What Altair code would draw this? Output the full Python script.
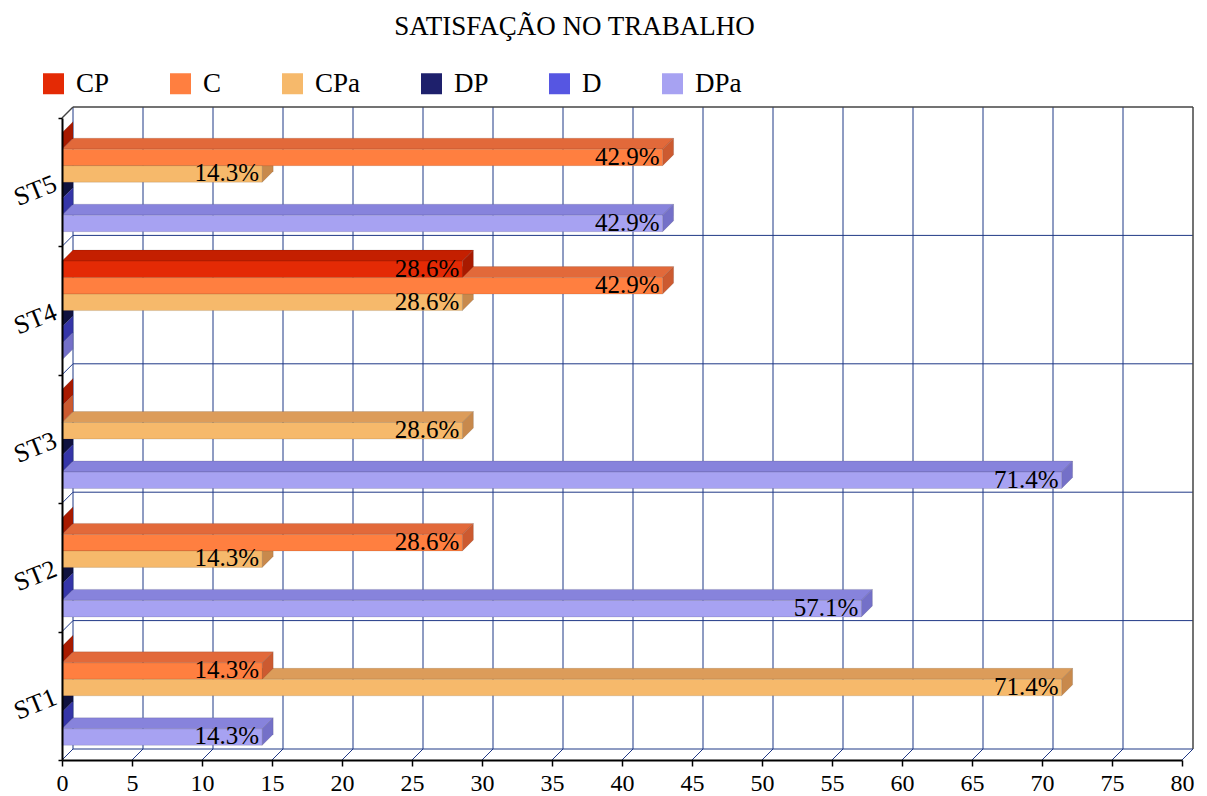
import altair as alt
import pandas as pd

# ---- data -------------------------------------------------------------
CATEGORIES = ["ST1", "ST2", "ST3", "ST4", "ST5"]
SERIES = ["CP", "C", "CPa", "DP", "D", "DPa"]
# percentage of answers per statement (ST1..ST5) for each series
CP = [0.0, 0.0, 0.0, 28.6, 0.0]
C = [14.3, 28.6, 0.0, 42.9, 42.9]
CPA = [71.4, 14.3, 28.6, 28.6, 14.3]
DP = [0.0, 0.0, 0.0, 0.0, 0.0]
D = [0.0, 0.0, 0.0, 0.0, 0.0]
DPA = [14.3, 57.1, 71.4, 0.0, 42.9]
X_TICKS = list(range(0, 85, 5))
TITLE = "SATISFAÇÃO NO TRABALHO"

# ---- style ------------------------------------------------------------
SERIF = "Liberation Serif"
FRONT = ["#e42a05", "#ff7f40", "#f6b96b", "#1e206c", "#5656e2", "#a7a2f2"]
TOP = ["#c41f00", "#e2693a", "#dc9c5a", "#15174f", "#4141c0", "#8783dc"]
SIDE = ["#a81a00", "#cc5a30", "#c8894c", "#10123f", "#3535a8", "#7470c8"]
GRID = "#1f3886"
EDGE = "#444444"

W, H = 1120, 642          # front plane of the plot, in pixels
XMAX = 80
NCAT = len(CATEGORIES)
DEPTH = 11                # 3D depth offset, in pixels
DX = DEPTH * XMAX / W     # depth expressed in x units
DY = DEPTH * NCAT / H     # depth expressed in y units
BAR_H = 16.5 * NCAT / H   # bar thickness in y units
PAD = (1 - len(SERIES) * BAR_H) / 2

values = dict(zip(SERIES, [CP, C, CPA, DP, D, DPA]))

# ---- derived geometry ---------------------------------------------------
bars = []
for i, cat in enumerate(CATEGORIES):
    for k, s in enumerate(SERIES):
        v = values[s][i]
        top = i + 1 - PAD - k * BAR_H
        bars.append(dict(cat=cat, series=s, v=v, top=top, bot=top - BAR_H,
                         bid=f"{cat}-{s}", label=f"{v:.1f}%", zero=0.0))
bars = pd.DataFrame(bars)
nonzero = bars[bars.v > 0]

tops = []
for _, b in nonzero.iterrows():
    tops.append(dict(bid=b.bid, series=b.series, y=b.top, xa=0.0, xb=b.v))
    tops.append(dict(bid=b.bid, series=b.series, y=b.top + DY, xa=DX, xb=b.v + DX))
tops = pd.DataFrame(tops)

sides = []
for _, b in bars.iterrows():
    sides.append(dict(bid=b.bid, series=b.series, x=b.v, ya=b.bot, yb=b.top))
    sides.append(dict(bid=b.bid, series=b.series, x=b.v + DX, ya=b.bot + DY, yb=b.top + DY))
sides = pd.DataFrame(sides)

lines = []
for t in X_TICKS:
    kind = "edge" if t == XMAX else "grid"
    lines.append(dict(x=t + DX, x2=t + DX, y=DY, y2=NCAT + DY, kind=kind))   # back wall
    lines.append(dict(x=t, x2=t + DX, y=0.0, y2=DY, kind="grid"))             # floor
for i in range(NCAT + 1):
    kind = "edge" if i == NCAT else "grid"
    lines.append(dict(x=DX, x2=XMAX + DX, y=i + DY, y2=i + DY, kind=kind))  # back wall
    lines.append(dict(x=0.0, x2=DX, y=float(i), y2=i + DY, kind=kind))      # left wall
lines = pd.DataFrame(lines)

xs = alt.Scale(domain=[0, XMAX], nice=False, zero=False)
ys = alt.Scale(domain=[0, NCAT], nice=False, zero=False)

cat_js = "[" + ",".join(f"'{c}'" for c in CATEGORIES) + "]"
Y_AXIS = alt.Axis(
    values=[j / 2 for j in range(2 * NCAT + 1)],
    labelExpr=f"datum.value % 1 ? {cat_js}[floor(datum.value)] : ''",
    tickOpacity={"condition": {"test": "datum.value % 1 === 0", "value": 1}, "value": 0},
    tickSize=4, tickColor="black", tickWidth=1.5,
    domainColor="black", domainWidth=2,
    labelFont=SERIF, labelFontSize=26, labelColor="black",
    labelAngle=338, labelAlign="right", labelBaseline="middle", labelPadding=3,
    grid=False, title=None, zindex=1,
)
X_AXIS = alt.Axis(
    values=X_TICKS, format="d",
    tickSize=6, tickColor="black", tickWidth=1.5,
    domainColor="black", domainWidth=2,
    labelFont=SERIF, labelFontSize=24, labelColor="black", labelPadding=5,
    labelFlush=False, grid=False, title=None, zindex=1,
)


def xq(field):
    return alt.X(field, scale=xs, axis=X_AXIS, stack=None)


def yq(field):
    return alt.Y(field, scale=ys, axis=Y_AXIS, stack=None)


grid_layer = alt.Chart(lines[lines.kind == "grid"]).mark_rule(color=GRID, strokeWidth=1).encode(
    x=xq("x:Q"), x2="x2:Q", y=yq("y:Q"), y2="y2:Q",
)
edge_layer = alt.Chart(lines[lines.kind == "edge"]).mark_rule(color=EDGE, strokeWidth=1.5).encode(
    x=xq("x:Q"), x2="x2:Q", y=yq("y:Q"), y2="y2:Q",
)

top_layer = alt.Chart(tops).mark_area(orient="horizontal", strokeWidth=0.6, stroke="#00000030").encode(
    y=yq("y:Q"),
    x=xq("xa:Q"),
    x2="xb:Q",
    detail="bid:N",
    color=alt.Color("series:N", scale=alt.Scale(domain=SERIES, range=TOP), legend=None),
)
side_layer = alt.Chart(sides).mark_area(orient="vertical", strokeWidth=0.6, stroke="#00000030").encode(
    x=xq("x:Q"),
    y=yq("ya:Q"),
    y2="yb:Q",
    detail="bid:N",
    color=alt.Color("series:N", scale=alt.Scale(domain=SERIES, range=SIDE), legend=None),
)
front_layer = alt.Chart(nonzero).mark_rect(strokeWidth=0.6, stroke="#00000030").encode(
    x=xq("zero:Q"),
    x2="v:Q",
    y=yq("bot:Q"),
    y2="top:Q",
    color=alt.Color(
        "series:N",
        scale=alt.Scale(domain=SERIES, range=FRONT),
        legend=alt.Legend(
            orient="none", legendX=-22, legendY=-48, direction="horizontal", columns=6,
            symbolType="square", symbolSize=441, symbolStrokeWidth=0,
            labelFont=SERIF, labelFontSize=27, labelColor="black", labelOffset=9,
            columnPadding=57, title=None, padding=0, labelLimit=0,
        ),
    ),
)

label_layer = alt.Chart(nonzero).mark_text(
    align="right", baseline="alphabetic", dx=-3, dy=-1,
    font=SERIF, fontSize=25, color="black",
).encode(
    x=xq("v:Q"),
    y=yq("bot:Q"),
    text="label:N",
)

title_layer = alt.Chart(pd.DataFrame({"t": [TITLE]})).mark_text(
    align="center", baseline="alphabetic", font=SERIF, fontSize=27, color="black",
).encode(x=alt.value(512.5), y=alt.value(-83), text="t:N")

chart = alt.layer(
    grid_layer, edge_layer, top_layer, side_layer, front_layer, label_layer, title_layer
).resolve_scale(color="independent").properties(
    width=W, height=H,
    autosize=alt.AutoSizeParams(type="none"),
    padding={"left": 62, "top": 118, "right": 25, "bottom": 36},
    background="white",
).configure_view(stroke=None)

chart.save("out.html", embed_options={"renderer": "svg", "actions": False})
